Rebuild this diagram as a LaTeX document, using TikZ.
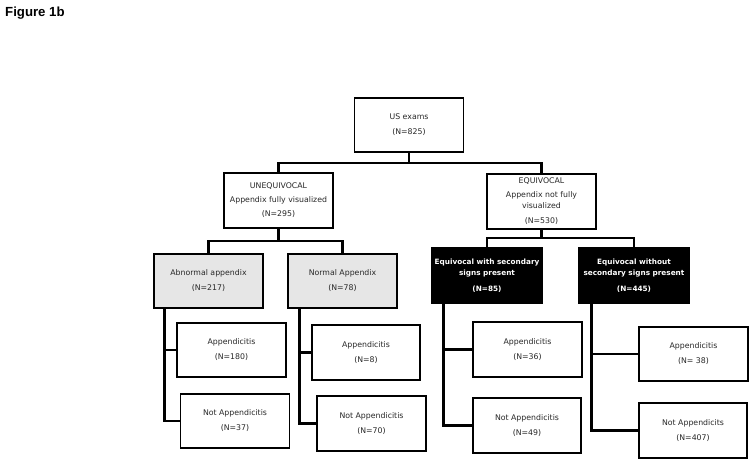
\documentclass[tikz,border=0pt]{standalone}
\usepackage{fontspec}
\setmainfont{DejaVu Sans}
\newfontfamily\titlefont{Liberation Sans}
\usetikzlibrary{positioning, calc}
\definecolor{BoxGrey}{RGB}{230, 230, 230}
\definecolor{TextGrey}{RGB}{40, 40, 40}

\begin{document}
\begin{tikzpicture}[
    x=1pt, y=-1pt,
    box/.style={draw=black, line width=1.2pt, fill=white, minimum width=109pt, minimum height=54pt, inner sep=1pt, align=center, text=TextGrey, font=\fontsize{7.8}{11}\selectfont},
    greybox/.style={box, fill=BoxGrey},
    darkbox/.style={box, fill=black, text=white, font=\fontsize{7.3}{11}\selectfont\bfseries},
    conn/.style={line width=2.8pt, line cap=rect}
]
    \useasboundingbox (0,0) rectangle (754,464);
    \node[anchor=north west, inner sep=0pt, font=\titlefont\fontsize{13.2}{15}\selectfont\bfseries] (title) at (5,7) {Figure 1b};

    % top level
    \node[box] (exams) at (409,125) {US exams\\[4pt](N=825)};
    \node[box, minimum height=55pt] (unequiv) at (278.5,200.5) {UNEQUIVOCAL\\[3pt]Appendix fully visualized\\[3pt](N=295)};
    \node[box, minimum height=55pt] (equiv) at (541.5,201.5) {EQUIVOCAL\\[3pt]Appendix not fully\\visualized\\[4pt](N=530)};

    % second level
    \node[greybox] (abnormal) at (208.5,281) {Abnormal appendix\\[4pt](N=217)};
    \node[greybox] (normal) at (342.5,281) {Normal Appendix\\[4pt](N=78)};
    \node[darkbox, minimum width=110pt, minimum height=55pt] (eqsec) at (487,275.5) {Equivocal with secondary\\signs present\\[5pt](N=85)};
    \node[darkbox, minimum width=110pt, minimum height=55pt] (eqnosec) at (634,275.5) {Equivocal without\\secondary signs present\\[5pt](N=445)};

    % outcomes
    \node[box] (app1) at (231.5,350) {Appendicitis\\[4pt](N=180)};
    \node[box] (notapp1) at (235,421) {Not Appendicitis\\[4pt](N=37)};
    \node[box, minimum width=108pt, minimum height=55pt] (app2) at (366,352.5) {Appendicitis\\[4pt](N=8)};
    \node[box, minimum height=55pt] (notapp2) at (371.5,423.5) {Not Appendicitis\\[4pt](N=70)};
    \node[box, minimum height=55pt] (app3) at (527.5,349.5) {Appendicitis\\[4pt](N=36)};
    \node[box, minimum width=108pt, minimum height=55pt] (notapp3) at (527,425.5) {Not Appendicitis\\[4pt](N=49)};
    \node[box] (app4) at (693.5,354) {Appendicitis\\[4pt](N= 38)};
    \node[box, minimum width=108pt, minimum height=55pt] (notapp4) at (693,430.5) {Not Appendicits\\[4pt](N=407)};

    % splits
    \coordinate (split0) at (409,163);
    \coordinate (split1) at (278.5,241);
    \coordinate (split2) at (541.5,238);
    \coordinate (trunk1) at ($(abnormal.south west)+(11,0)$);
    \coordinate (trunk2) at ($(normal.south west)+(12,0)$);
    \coordinate (trunk3) at ($(eqsec.south west)+(12,0)$);
    \coordinate (trunk4) at ($(eqnosec.south west)+(13,0)$);

    \draw[conn] (exams.south) -- (split0);
    \draw[conn] (unequiv.north) |- (split0) -| (equiv.north);
    \draw[conn] (unequiv.south) -- (split1);
    \draw[conn] (abnormal.north) |- (split1) -| (normal.north);
    \draw[conn] (equiv.south) -- (split2);
    \draw[conn] (eqsec.north) |- (split2) -| (eqnosec.north);

    \draw[conn] (trunk1) |- (notapp1.west);
    \draw[conn] (trunk1 |- app1.west) -- (app1.west);
    \draw[conn] (trunk2) |- (notapp2.west);
    \draw[conn] (trunk2 |- app2.west) -- (app2.west);
    \draw[conn] (trunk3) |- (notapp3.west);
    \draw[conn] (trunk3 |- app3.west) -- (app3.west);
    \draw[conn] (trunk4) |- (notapp4.west);
    \draw[conn] (trunk4 |- app4.west) -- (app4.west);
\end{tikzpicture}
\end{document}
